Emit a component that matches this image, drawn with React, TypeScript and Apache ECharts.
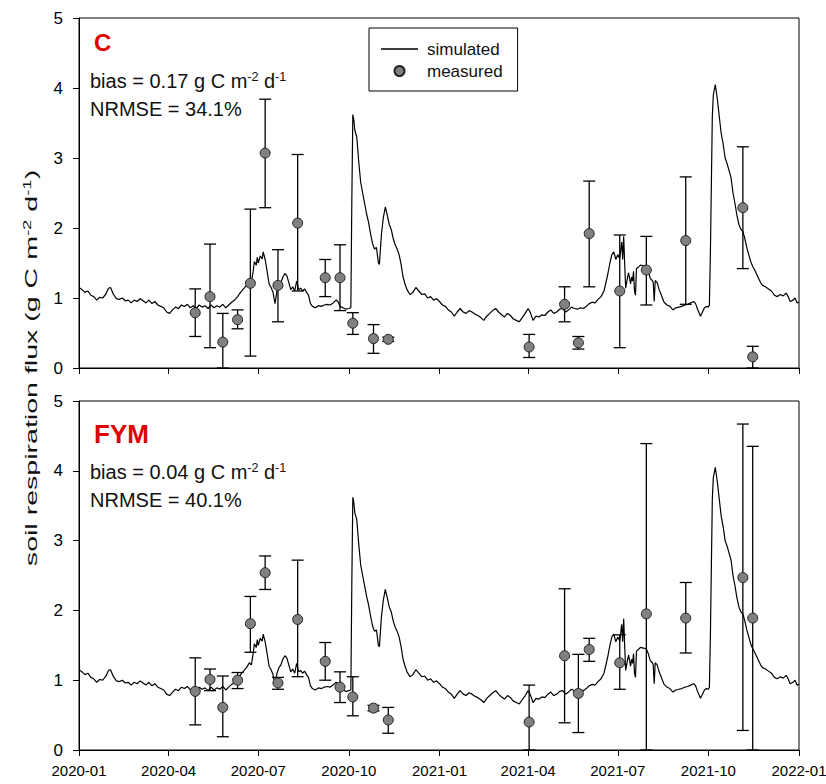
import React, { useEffect, useRef } from 'react';
import * as echarts from 'echarts';

// ---------- data ----------
const tickLabels = ['2020-01', '2020-04', '2020-07', '2020-10', '2021-01', '2021-04', '2021-07', '2021-10', '2022-01'];

// simulated daily flux (days since 2020-01-01)
const simDays = [
  0, 3, 6, 9, 12, 15, 18, 21, 24, 27,
  30, 32, 35, 38, 41, 44, 47, 50, 53, 56,
  59, 62, 65, 68, 71, 74, 77, 80, 83, 86,
  89, 92, 95, 98, 101, 104, 107, 110, 113, 116,
  119, 122, 125, 128, 131, 134, 137, 140, 143, 146,
  149, 152, 155, 158, 161, 164, 167, 170, 173, 175,
  177, 178, 180, 181, 182, 184, 186, 187, 189, 191,
  193, 195, 197, 199, 201, 203, 205, 207, 209, 211,
  213, 215, 217, 219, 221, 223, 225, 227, 229, 231,
  233, 235, 237, 240, 243, 246, 249, 252, 255, 258,
  261, 263, 265, 268, 271, 274, 276, 277, 278, 279,
  280, 282, 284, 286, 288, 290, 292, 294, 296, 298,
  300, 302, 304, 305, 307, 309, 311, 313, 315, 317,
  319, 321, 323, 325, 327, 329, 331, 333, 336, 339,
  342, 345, 348, 351, 354, 357, 360, 363, 366, 369,
  372, 375, 378, 381, 384, 387, 390, 393, 396, 399,
  402, 405, 408, 411, 414, 417, 420, 423, 426, 429,
  432, 435, 438, 441, 444, 447, 450, 453, 456, 458,
  461, 464, 467, 470, 473, 476, 479, 482, 485, 488,
  491, 494, 497, 500, 503, 506, 509, 512, 515, 518,
  521, 524, 527, 530, 533, 535, 537, 539, 541, 543,
  545, 547, 549, 551, 552, 553, 554, 555, 557, 558,
  560, 561, 562, 563, 564, 565, 566, 568, 570, 573,
  576, 578, 580, 582, 583, 584, 585, 587, 589, 591,
  594, 597, 600, 603, 606, 609, 612, 615, 618, 621,
  624, 626, 628, 631, 633, 635, 637, 639, 640, 641,
  642, 643, 644, 646, 648, 650, 652, 654, 656, 658,
  660, 662, 664, 666, 668, 670, 672, 674, 676, 678,
  680, 682, 684, 686, 688, 690, 692, 694, 697, 700,
  703, 706, 709, 712, 715, 718, 720, 722, 725, 727,
  729, 731,
];
const simValues = [
  1.15, 1.12, 1.08, 1.10, 1.04, 1.02, 0.97, 1.01, 1.00, 1.05,
  1.14, 1.15, 1.05, 0.99, 0.98, 1.00, 0.96, 0.97, 0.93, 0.97,
  0.95, 0.99, 0.96, 0.93, 0.97, 0.92, 0.95, 0.90, 0.88, 0.86,
  0.80, 0.78, 0.83, 0.87, 0.85, 0.90, 0.88, 0.91, 0.86, 0.89,
  0.85, 0.90, 0.87, 0.89, 0.85, 0.90, 0.86, 0.89, 0.87, 0.91,
  0.86, 0.90, 0.94, 0.97, 1.02, 1.08, 1.13, 1.18, 1.25, 1.22,
  1.40, 1.52, 1.47, 1.58, 1.50, 1.60, 1.56, 1.66, 1.55, 1.38,
  1.20, 1.15, 1.08, 0.92, 1.10, 1.18, 1.22, 1.30, 1.35, 1.32,
  1.22, 1.12, 1.16, 1.10, 1.24, 1.12, 1.14, 1.10, 1.13, 1.08,
  1.04, 0.92, 0.88, 0.86, 0.89, 0.88, 0.90, 0.91, 0.90, 0.93,
  0.97, 0.95, 0.88, 0.86, 0.84, 0.85, 0.86, 2.40, 3.62, 3.55,
  3.40, 3.30, 2.95, 2.65, 2.50, 2.35, 2.20, 2.08, 1.92, 1.78,
  1.70, 1.72, 1.50, 1.48, 1.90, 2.15, 2.30, 2.18, 2.05, 1.98,
  1.85, 1.76, 1.70, 1.62, 1.48, 1.30, 1.20, 1.12, 1.05, 1.08,
  1.15, 1.10, 1.05, 1.06, 1.00, 1.02, 0.97, 0.99, 0.95, 0.90,
  0.88, 0.83, 0.80, 0.74, 0.80, 0.85, 0.80, 0.78, 0.82, 0.80,
  0.77, 0.75, 0.72, 0.68, 0.74, 0.78, 0.82, 0.85, 0.80, 0.76,
  0.73, 0.78, 0.75, 0.70, 0.68, 0.66, 0.72, 0.78, 0.85, 0.80,
  0.68, 0.74, 0.73, 0.76, 0.75, 0.80, 0.83, 0.78, 0.80, 0.84,
  0.85, 0.80, 0.83, 0.87, 0.85, 0.84, 0.86, 0.85, 0.88, 0.92,
  0.94, 0.93, 0.98, 1.02, 1.10, 1.22, 1.35, 1.50, 1.62, 1.66,
  1.55, 1.62, 1.56, 1.80, 1.55, 1.88, 1.50, 1.14, 1.30, 1.36,
  1.20, 1.30, 1.24, 1.38, 1.10, 1.04, 1.42, 1.44, 1.47, 1.46,
  1.45, 1.38, 1.28, 1.25, 1.22, 0.95, 1.25, 1.22, 1.12, 1.05,
  0.94, 0.90, 0.88, 0.83, 0.86, 0.87, 0.88, 0.90, 0.91, 0.93,
  0.95, 0.92, 0.84, 0.74, 0.80, 0.86, 0.88, 0.87, 0.90, 1.60,
  2.60, 3.60, 3.90, 4.05, 3.85, 3.60, 3.35, 3.20, 3.00, 2.92,
  2.82, 2.72, 2.50, 2.35, 2.18, 2.05, 1.98, 1.95, 1.85, 1.72,
  1.62, 1.52, 1.45, 1.40, 1.34, 1.28, 1.22, 1.18, 1.16, 1.13,
  1.10, 1.04, 1.02, 1.05, 1.03, 1.07, 1.02, 0.95, 0.97, 1.00,
  0.93, 0.94,
];

// measurement dates (same for both treatments)
const measuredDates = [
  '2020-04-28', '2020-05-13', '2020-05-26', '2020-06-10', '2020-06-23', '2020-07-08',
  '2020-07-21', '2020-08-10', '2020-09-07', '2020-09-22', '2020-10-05', '2020-10-26',
  '2020-11-10', '2021-04-02', '2021-05-08', '2021-05-22', '2021-06-02', '2021-07-03',
  '2021-07-30', '2021-09-08', '2021-11-05', '2021-11-15',
];
// treatment C
const cMean = [0.79, 1.02, 0.37, 0.69, 1.21, 3.07, 1.18, 2.07, 1.29, 1.29, 0.64, 0.42, 0.41, 0.30, 0.91, 0.36, 1.92, 1.10, 1.40, 1.82, 2.29, 0.16];
const cLow = [0.45, 0.29, 0.0, 0.56, 0.17, 2.29, 0.66, 1.10, 1.02, 0.82, 0.48, 0.21, 0.38, 0.15, 0.66, 0.27, 1.16, 0.29, 0.90, 0.91, 1.42, 0.0];
const cHigh = [1.13, 1.77, 0.78, 0.83, 2.27, 3.84, 1.69, 3.05, 1.55, 1.76, 0.79, 0.62, 0.44, 0.48, 1.16, 0.45, 2.67, 1.90, 1.88, 2.73, 3.16, 0.31];
// treatment FYM
const fymMean = [0.84, 1.01, 0.61, 1.00, 1.81, 2.54, 0.96, 1.87, 1.27, 0.90, 0.76, 0.60, 0.43, 0.40, 1.35, 0.81, 1.44, 1.25, 1.95, 1.89, 2.47, 1.89];
const fymLow = [0.36, 0.85, 0.19, 0.88, 1.40, 2.30, 0.87, 1.05, 1.00, 0.68, 0.49, 0.56, 0.24, 0.0, 0.39, 0.25, 1.27, 0.87, 0.0, 1.39, 0.28, 0.0];
const fymHigh = [1.32, 1.16, 1.06, 1.11, 2.20, 2.78, 1.04, 2.72, 1.54, 1.12, 1.05, 0.64, 0.61, 0.93, 2.31, 1.37, 1.60, 1.65, 4.39, 2.40, 4.67, 4.35];

const panelNames = ['C', 'FYM'];
const biasTexts = ['0.17', '0.04'];
const nrmseTexts = ['34.1%', '40.1%'];

// ---------- helpers ----------
const FONT = 'Arial, "Liberation Sans", Helvetica, sans-serif';
const dayOf = (s: string) => {
  const [y, m, d] = s.split('-').map(Number);
  return Math.round((Date.UTC(y, m - 1, d || 1) - Date.UTC(2020, 0, 1)) / 86400000);
};
const tickDays = tickLabels.map((t) => dayOf(t + '-01'));
const simData = simDays.map((d, i) => [d, simValues[i]]);
const measDays = measuredDates.map(dayOf);

const GRID_TOP = [18, 401];
const GRID_H = [350, 349];
const LABEL_Y = [42, 434];
const BIAS_Y = [81, 472];
const NRMSE_Y = [109, 500];
const LABEL_SIZE = [24, 26];

function errRender(params: any, api: any) {
  const x = api.value(0);
  const lo = api.coord([x, api.value(1)]);
  const hi = api.coord([x, api.value(2)]);
  const hw = 6;
  const st = { stroke: '#000', lineWidth: 1.3 };
  return {
    type: 'group',
    children: [
      { type: 'line', shape: { x1: hi[0], y1: hi[1], x2: lo[0], y2: lo[1] }, style: st },
      { type: 'line', shape: { x1: hi[0] - hw, y1: hi[1], x2: hi[0] + hw, y2: hi[1] }, style: st },
      { type: 'line', shape: { x1: lo[0] - hw, y1: lo[1], x2: lo[0] + hw, y2: lo[1] }, style: st },
    ],
  };
}

function buildOption() {
  const grids = [0, 1].map((i) => ({
    left: 79,
    top: GRID_TOP[i],
    width: 720,
    height: GRID_H[i],
    show: true,
    borderColor: '#000',
    borderWidth: 1,
    backgroundColor: 'transparent',
    containLabel: false,
    outerBoundsMode: 'none',
  }));
  const xAxes = [0, 1].map((i) => ({
    type: 'value',
    gridIndex: i,
    min: 0,
    max: tickDays[tickDays.length - 1],
    axisLine: { show: true, lineStyle: { color: '#000', width: 1 } },
    axisTick: { show: true, inside: false, length: 6, customValues: tickDays, lineStyle: { color: '#000', width: 1 } },
    axisLabel: {
      show: i === 1,
      customValues: tickDays,
      margin: 13,
      fontSize: 15,
      color: '#000',
      fontFamily: FONT,
      hideOverlap: false,
      formatter: (v: number) => {
        const k = tickDays.indexOf(Math.round(v));
        return k >= 0 ? tickLabels[k] : '';
      },
    },
    splitLine: { show: false },
  }));
  const yAxes = [0, 1].map((i) => ({
    type: 'value',
    gridIndex: i,
    min: 0,
    max: 5,
    interval: 1,
    axisLine: { show: true, lineStyle: { color: '#000', width: 1 } },
    axisTick: { show: true, inside: false, length: 6, lineStyle: { color: '#000', width: 1 } },
    axisLabel: { margin: 16, fontSize: 17, color: '#000', fontFamily: FONT },
    splitLine: { show: false },
  }));

  const means = [cMean, fymMean];
  const lows = [cLow, fymLow];
  const highs = [cHigh, fymHigh];
  const series: any[] = [];
  [0, 1].forEach((i) => {
    series.push({
      name: 'simulated',
      type: 'line',
      xAxisIndex: i,
      yAxisIndex: i,
      data: simData,
      symbol: 'none',
      showSymbol: false,
      lineStyle: { color: '#000', width: 1.2 },
      itemStyle: { color: '#000' },
      z: 2,
    });
    series.push({
      name: 'errors' + i,
      type: 'custom',
      xAxisIndex: i,
      yAxisIndex: i,
      renderItem: errRender,
      clip: true,
      data: measDays.map((d, k) => [d, lows[i][k], highs[i][k]]),
      encode: { x: 0, y: [1, 2] },
      z: 3,
    });
    series.push({
      name: 'measured',
      type: 'scatter',
      xAxisIndex: i,
      yAxisIndex: i,
      data: measDays.map((d, k) => [d, means[i][k]]),
      symbol: 'circle',
      symbolSize: 10,
      itemStyle: { color: '#808080', borderColor: '#222', borderWidth: 1, opacity: 1 },
      z: 4,
    });
  });

  const graphics: any[] = [];
  [0, 1].forEach((i) => {
    graphics.push({
      type: 'text',
      x: 94,
      y: LABEL_Y[i],
      style: {
        text: panelNames[i],
        fontSize: LABEL_SIZE[i],
        fontWeight: 'bold',
        fontFamily: FONT,
        fill: '#e00000',
        verticalAlign: 'middle',
      },
    });
    graphics.push({
      type: 'text',
      x: 90,
      y: BIAS_Y[i],
      style: {
        text: `{n|bias = ${biasTexts[i]} g C m}{s|-2}{n| d}{s|-1}`,
        verticalAlign: 'middle',
        rich: {
          n: { fontSize: 20, fontFamily: FONT, fill: '#111', lineHeight: 22 },
          s: { fontSize: 12.5, fontFamily: FONT, fill: '#111', lineHeight: 12, verticalAlign: 'top' },
        },
      },
    });
    graphics.push({
      type: 'text',
      x: 90,
      y: NRMSE_Y[i],
      style: {
        text: `NRMSE = ${nrmseTexts[i]}`,
        fontSize: 20,
        fontFamily: FONT,
        fill: '#111',
        verticalAlign: 'middle',
      },
    });
  });
  graphics.push({
    type: 'text',
    x: 31,
    y: 368,
    rotation: Math.PI / 2,
    scaleX: 1.68,
    style: {
      text: '{n|soil respiration flux (g C m}{s|-2}{n| d}{s|-1}{n|)}',
      align: 'center',
      verticalAlign: 'middle',
      rich: {
        n: { fontSize: 17, fontFamily: FONT, fill: '#111', lineHeight: 18 },
        s: { fontSize: 11, fontFamily: FONT, fill: '#111', lineHeight: 11, verticalAlign: 'top' },
      },
    },
  });

  return {
    animation: false,
    backgroundColor: '#fff',
    textStyle: { fontFamily: FONT },
    grid: grids,
    xAxis: xAxes,
    yAxis: yAxes,
    legend: {
      data: [
        { name: 'simulated', icon: 'path://M0,0H37V1.3H0Z' },
        { name: 'measured', icon: 'circle' },
      ],
      orient: 'vertical',
      left: 369,
      top: 28,
      borderColor: '#000',
      borderWidth: 1,
      borderRadius: 0,
      padding: [11, 15, 10, 12],
      itemGap: 2,
      itemWidth: 37,
      itemHeight: 10,
      textStyle: { fontSize: 17, color: '#111', fontFamily: FONT, lineHeight: 20, padding: [0, 0, 0, 4] },
      selectedMode: false,
    },
    graphic: graphics,
    series,
  };
}

export default function App() {
  const ref = useRef<HTMLDivElement>(null);
  useEffect(() => {
    if (!ref.current) return;
    const chart = echarts.init(ref.current, null, { renderer: 'svg' });
    chart.setOption(buildOption() as any);
    return () => chart.dispose();
  }, []);
  return (
    <div
      ref={ref}
      style={{ position: 'absolute', left: 0, top: 0, width: 826, height: 784, background: '#fff' }}
    />
  );
}
